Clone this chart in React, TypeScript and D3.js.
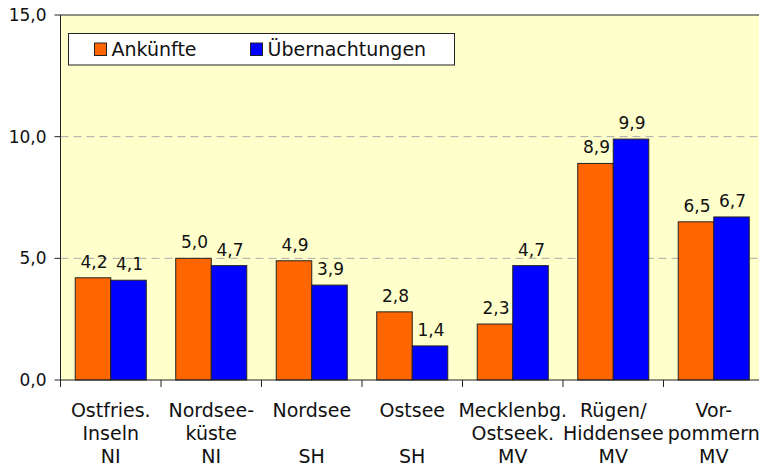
import React, { useRef, useEffect } from 'react';
import * as d3 from 'd3';

const regions = ['Ostfries. Inseln NI', 'Nordseeküste NI', 'Nordsee SH', 'Ostsee SH', 'Mecklenbg. Ostseek. MV', 'Rügen/Hiddensee MV', 'Vorpommern MV'];
const regionLines = [
  ['Ostfries.', 'Inseln', 'NI'],
  ['Nordsee-', 'küste', 'NI'],
  ['Nordsee', '', 'SH'],
  ['Ostsee', '', 'SH'],
  ['Mecklenbg.', 'Ostseek.', 'MV'],
  ['Rügen/', 'Hiddensee', 'MV'],
  ['Vor-', 'pommern', 'MV'],
];
const seriesNames = ['Ankünfte', 'Übernachtungen'];
const seriesColors = ['#FF6600', '#0000FF'];
const ankuenfte = [4.2, 5.0, 4.9, 2.8, 2.3, 8.9, 6.5];
const uebernachtungen = [4.1, 4.7, 3.9, 1.4, 4.7, 9.9, 6.7];
const yTicks = [0, 5, 10, 15];

const App = () => {
  const svgRef = useRef<SVGSVGElement>(null);

  useEffect(() => {
    const W = 759;
    const H = 468;
    const margin = { top: 15, left: 60.5, bottom: 88 };
    const step = 100.5;
    const plotW = step * regions.length;
    const plotH = H - margin.top - margin.bottom;
    const font = '"DejaVu Sans", Verdana, sans-serif';

    const svg = d3.select(svgRef.current);
    svg.selectAll('*').remove();
    svg.attr('width', W).attr('height', H);

    const g = svg.append('g').attr('transform', `translate(${margin.left},${margin.top})`);

    const x = d3.scaleBand().domain(regions).range([0, plotW]).padding(0);
    const xSub = d3.scaleBand().domain(seriesNames).range([0, x.bandwidth()]).paddingInner(0).paddingOuter(0.415);
    const y = d3.scaleLinear().domain([0, 15]).range([plotH, 0]);

    // background
    g.append('rect')
      .attr('width', plotW)
      .attr('height', plotH)
      .attr('fill', '#FFFFCC');

    // gridlines
    g.selectAll('.grid')
      .data(yTicks.filter(t => t > 0 && t < 15))
      .enter()
      .append('line')
      .attr('x1', 0)
      .attr('x2', plotW)
      .attr('y1', d => y(d))
      .attr('y2', d => y(d))
      .attr('stroke', '#aaa')
      .attr('stroke-dasharray', '8,5');

    // top border
    g.append('line')
      .attr('x1', 0).attr('x2', plotW)
      .attr('y1', 0).attr('y2', 0)
      .attr('stroke', '#222');

    // bars
    const data = regions.map((r, i) => ({ region: r, values: [ankuenfte[i], uebernachtungen[i]] }));
    const groups = g.selectAll('.grp')
      .data(data)
      .enter()
      .append('g')
      .attr('transform', d => `translate(${x(d.region)},0)`);

    groups.selectAll('rect')
      .data(d => d.values.map((v, j) => ({ name: seriesNames[j], v, j })))
      .enter()
      .append('rect')
      .attr('x', d => xSub(d.name)!)
      .attr('width', xSub.bandwidth())
      .attr('y', d => y(d.v))
      .attr('height', d => plotH - y(d.v))
      .attr('fill', d => seriesColors[d.j])
      .attr('stroke', '#222')
      .attr('stroke-width', 1);

    groups.selectAll('.val')
      .data(d => d.values.map((v, j) => ({ name: seriesNames[j], v, j })))
      .enter()
      .append('text')
      .attr('x', d => xSub(d.name)! + xSub.bandwidth() / 2 + 1)
      .attr('y', d => y(d.v) - 10)
      .attr('text-anchor', 'middle')
      .style('font-family', font)
      .style('font-size', '17px')
      .attr('fill', '#111')
      .text(d => d3.format('.1f')(d.v).replace('.', ','));

    // y axis
    g.append('line')
      .attr('x1', 0).attr('x2', 0)
      .attr('y1', 0).attr('y2', plotH + 7)
      .attr('stroke', '#222');
    g.selectAll('.ytick')
      .data(yTicks)
      .enter()
      .append('line')
      .attr('x1', -6).attr('x2', 0)
      .attr('y1', d => y(d)).attr('y2', d => y(d))
      .attr('stroke', '#222');
    g.selectAll('.ylab')
      .data(yTicks)
      .enter()
      .append('text')
      .attr('x', -14)
      .attr('y', d => y(d))
      .attr('dy', '0.36em')
      .attr('text-anchor', 'end')
      .style('font-family', font)
      .style('font-size', '17px')
      .attr('fill', '#111')
      .text(d => d3.format('.1f')(d).replace('.', ','));

    // x axis
    g.append('line')
      .attr('x1', 0).attr('x2', plotW)
      .attr('y1', plotH).attr('y2', plotH)
      .attr('stroke', '#222');
    g.selectAll('.xtick')
      .data(regions)
      .enter()
      .append('line')
      .attr('x1', d => x(d)!).attr('x2', d => x(d)!)
      .attr('y1', plotH).attr('y2', plotH + 7)
      .attr('stroke', '#222');

    // category labels, three lines each
    const labels = g.selectAll('.xlab')
      .data(regions)
      .enter()
      .append('text')
      .attr('text-anchor', 'middle')
      .style('font-family', font)
      .style('font-size', '19px')
      .attr('fill', '#111');
    labels.each(function (d, i) {
      const t = d3.select(this);
      regionLines[i].forEach((line, k) => {
        t.append('tspan')
          .attr('x', x(d)! + x.bandwidth() / 2)
          .attr('y', plotH + 37 + k * 23)
          .text(line);
      });
    });

    // legend
    const lg = svg.append('g').attr('transform', 'translate(68.5,33.5)');
    lg.append('rect')
      .attr('width', 386)
      .attr('height', 31.5)
      .attr('fill', '#fff')
      .attr('stroke', '#222');
    const legendX = [26, 182];
    seriesNames.forEach((name, i) => {
      lg.append('rect')
        .attr('x', legendX[i])
        .attr('y', 9.5)
        .attr('width', 12)
        .attr('height', 12.5)
        .attr('fill', seriesColors[i])
        .attr('stroke', '#222');
      lg.append('text')
        .attr('x', legendX[i] + 17)
        .attr('y', 22.5)
        .style('font-family', font)
        .style('font-size', '19px')
        .attr('fill', '#111')
        .text(name);
    });
  }, []);

  return (
    <svg ref={svgRef} style={{ position: 'absolute', left: 0, top: 0, overflow: 'hidden' }}></svg>
  );
};

export default App;
